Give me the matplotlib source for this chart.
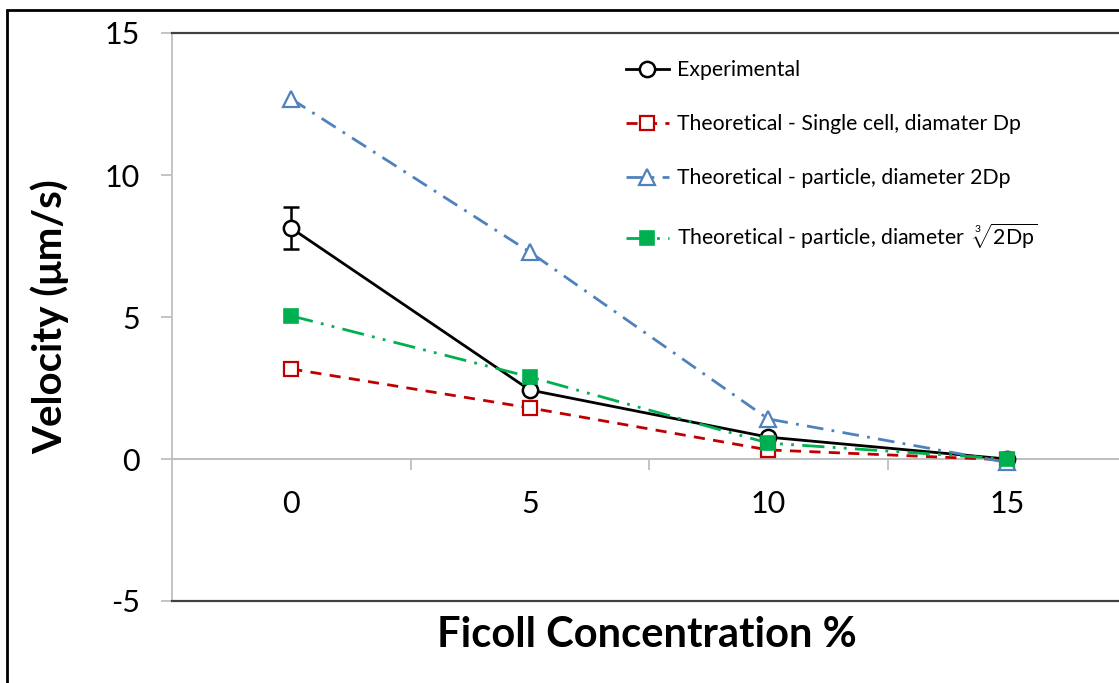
import numpy as np
import matplotlib
matplotlib.use("Agg")
import matplotlib.pyplot as plt
from matplotlib.patches import Rectangle
from matplotlib.ticker import FixedLocator

plt.rcParams['font.family'] = ['Lato', 'DejaVu Sans']
plt.rcParams['mathtext.fontset'] = 'custom'
plt.rcParams['mathtext.rm'] = 'Lato'
plt.rcParams['mathtext.it'] = 'Lato'
plt.rcParams['axes.unicode_minus'] = False

# Ficoll concentration (%) and measured / predicted velocities (um/s)
concentration = ['0', '5', '10', '15']
experimental = [8.13, 2.43, 0.77, 0.0]
experimental_err = [0.75, 0.0, 0.0, 0.0]
single_cell = [3.17, 1.80, 0.32, -0.03]
particle_2dp = [12.68, 7.29, 1.41, -0.12]
particle_cbrt = [5.04, 2.89, 0.56, 0.0]

x = np.arange(len(concentration))

fig = plt.figure(figsize=(11.19, 6.83), dpi=100)
ax = fig.add_axes([172 / 1119, 1 - 601 / 683, 954 / 1119, 568 / 683])

gray = '#bfbfbf'
dark = '#404040'

ax.axhline(0, color=gray, lw=1.3, zorder=1)

ax.errorbar(x, experimental, yerr=experimental_err, fmt='none', ecolor='black',
            capsize=6, capthick=1.8, elinewidth=1.8, zorder=3)
h_exp, = ax.plot(x, experimental, color='black', lw=2.0,
                 marker='o', ms=11, mfc='white', mec='black', mew=1.8,
                 zorder=3, label='Experimental')
h_single, = ax.plot(x, single_cell, color='#c00000', lw=2.0, ls=(0, (4, 3)),
                    marker='s', ms=10, mfc='white', mec='#c00000', mew=1.6,
                    zorder=4, label='Theoretical - Single cell, diamater Dp')
h_2dp, = ax.plot(x, particle_2dp, color='#4f81bd', lw=2.0,
                 ls=(0, (6, 3, 1, 3)), marker='^', ms=12, mfc='white',
                 mec='#4f81bd', mew=1.6, zorder=4,
                 label='Theoretical - particle, diameter 2Dp')
h_cbrt, = ax.plot(x, particle_cbrt, color='#00b050', lw=2.0,
                  ls=(0, (8, 3, 1, 3, 1, 3)), marker='s', ms=10,
                  mfc='#00b050', mec='#00b050', mew=1.2, zorder=5,
                  label=r'Theoretical - particle, diameter  $\sqrt[3]{2\mathrm{Dp}}$')

ax.set_xlim(-0.5, 3.5)
ax.set_ylim(-5, 15)
ax.set_yticks([-5, 0, 5, 10, 15])

# category labels sit under the zero line, tick marks between categories
ax.spines['bottom'].set_position(('data', 0))
ax.spines['bottom'].set_color(gray)
ax.spines['bottom'].set_linewidth(1.3)
ax.set_xticks(x)
ax.set_xticklabels(concentration)
ax.xaxis.set_minor_locator(FixedLocator([0.5, 1.5, 2.5]))
ax.tick_params(axis='x', which='major', length=0, pad=22, labelsize=22)
ax.tick_params(axis='x', which='minor', length=8, width=1.3, color=gray,
               direction='out')
ax.tick_params(axis='y', length=8, width=1.3, color=gray, pad=15,
               labelsize=22)

ax.spines['left'].set_color(gray)
ax.spines['left'].set_linewidth(1.3)
ax.spines['top'].set_color(dark)
ax.spines['top'].set_linewidth(1.6)
ax.spines['right'].set_visible(False)
ax.axhline(-5, color=dark, lw=1.6, clip_on=False, zorder=5)

fig.text(50 / 1119, 1 - 317 / 683, 'Velocity (\u03bcm/s)', rotation=90,
         ha='center', va='center', fontsize=29, fontweight='bold')
fig.text(647 / 1119, 1 - 635 / 683, 'Ficoll Concentration %',
         ha='center', va='center', fontsize=30, fontweight='bold')

ax.legend(handles=[h_exp, h_single, h_2dp, h_cbrt],
          loc='upper left', bbox_to_anchor=(626 / 1119, 1 - 60 / 683),
          bbox_transform=fig.transFigure, frameon=False, fontsize=15.3,
          handlelength=2.0, handletextpad=0.4, labelspacing=1.6,
          borderpad=0, borderaxespad=0)

# outer chart border
fig.add_artist(Rectangle((7 / 1119, -0.1), 1.1, 1 - 10 / 683 + 0.1,
                         transform=fig.transFigure, fill=False,
                         edgecolor='black', lw=2))

fig.savefig('out.png', dpi=100)
